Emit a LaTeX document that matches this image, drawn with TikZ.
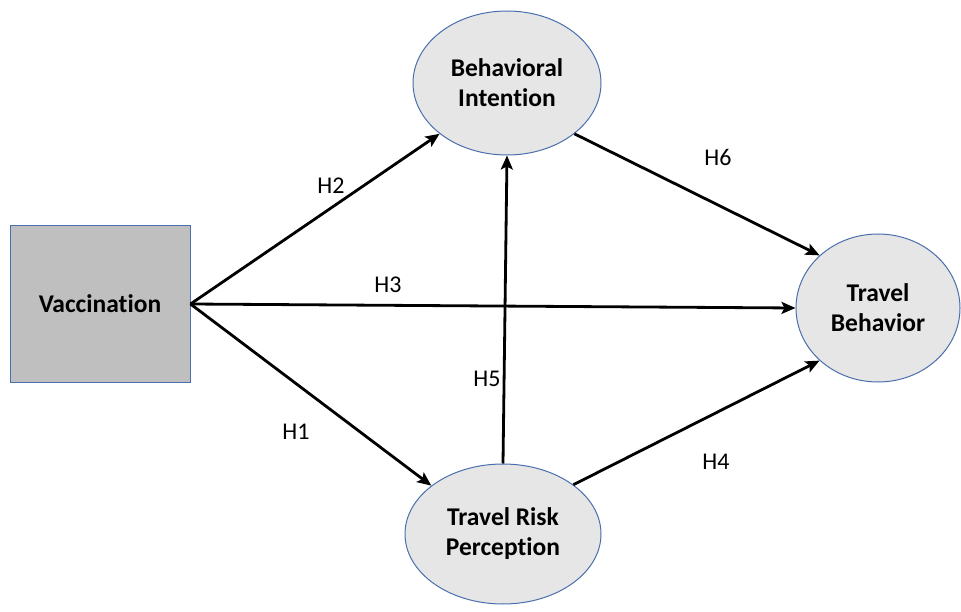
\documentclass[tikz,border=0pt]{standalone}
\usepackage{fontspec}
\setmainfont[Ligatures={NoCommon}]{Carlito}
\usetikzlibrary{shapes.geometric,arrows.meta}
\definecolor{boxgray}{HTML}{BFBFBF}
\definecolor{ellgray}{HTML}{E7E6E6}
\definecolor{edgeblue}{HTML}{4A6FAE}
\begin{document}
\begin{tikzpicture}[x=1pt,y=-1pt,
    construct/.style={ellipse,draw=edgeblue,line width=1pt,fill=ellgray,inner sep=0pt,align=center,
        font=\fontsize{25.5}{30}\selectfont\bfseries},
    path/.style={line width=2.8pt,-{Stealth[length=14pt,width=12pt,inset=3pt]}},
    hyp/.style={font=\fontsize{24}{28}\selectfont}]
    \useasboundingbox (0,0) rectangle (961,612);
    \node[draw=edgeblue,line width=1pt,fill=boxgray,minimum width=180pt,minimum height=156pt,inner sep=0pt,
        font=\fontsize{25.5}{30}\selectfont\bfseries] (vac) at (100,304) {Vaccination};
    \node[construct,minimum width=188pt,minimum height=144pt] (bi) at (507,83) {Behavioral\\Intention};
    \node[construct,minimum width=196pt,minimum height=140pt] (trp) at (503,534) {Travel Risk\\Perception};
    \node[construct,minimum width=164pt,minimum height=148pt] (tb) at (878,308) {Travel\\Behavior};
    \draw[path] (vac.east) -- (bi.217);
    \draw[path] (vac.east) -- (tb.west);
    \draw[path] (vac.east) -- (trp.146);
    \draw[path] (trp.north) -- (bi.south);
    \draw[path] (bi.-37) -- (tb.138);
    \draw[path] (trp.35) -- (tb.222);
    \node[hyp] (h1) at (296,432) {H1};
    \node[hyp] (h2) at (331,186) {H2};
    \node[hyp] (h3) at (388,285) {H3};
    \node[hyp] (h4) at (716,462) {H4};
    \node[hyp] (h5) at (487,379) {H5};
    \node[hyp] (h6) at (718,157) {H6};
\end{tikzpicture}
\end{document}
